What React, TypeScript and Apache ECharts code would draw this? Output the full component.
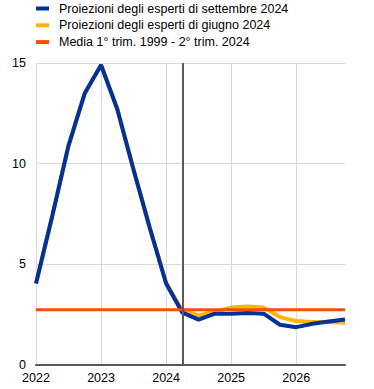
import React, { useEffect, useRef } from "react";
import * as echarts from "echarts";

const quarters = [
  "2022Q1", "2022Q2", "2022Q3", "2022Q4",
  "2023Q1", "2023Q2", "2023Q3", "2023Q4",
  "2024Q1", "2024Q2", "2024Q3", "2024Q4",
  "2025Q1", "2025Q2", "2025Q3", "2025Q4",
  "2026Q1", "2026Q2", "2026Q3", "2026Q4",
];

const septemberProjections = [
  4.05, 7.4, 10.9, 13.5,
  14.9, 12.7, 9.7, 6.8,
  4.05, 2.6, 2.25, 2.55,
  2.55, 2.58, 2.55, 2.0,
  1.88, 2.05, 2.16, 2.26,
];

const juneProjections = [
  4.05, 7.4, 10.9, 13.5,
  14.9, 12.7, 9.7, 6.8,
  4.1, 2.7, 2.46, 2.66,
  2.85, 2.9, 2.85, 2.38,
  2.18, 2.13, 2.13, 2.1,
];

const longTermAverage = [
  2.75, 2.75, 2.75, 2.75,
  2.75, 2.75, 2.75, 2.75,
  2.75, 2.75, 2.75, 2.75,
  2.75, 2.75, 2.75, 2.75,
  2.75, 2.75, 2.75, 2.75,
];

const cutoffQuarter = "2024Q2";

const seriesNames = [
  "Proiezioni degli esperti di settembre 2024",
  "Proiezioni degli esperti di giugno 2024",
  "Media 1° trim. 1999 - 2° trim. 2024",
];

const yTicks = { min: 0, max: 15, interval: 5 };

export default function App() {
  const ref = useRef<HTMLDivElement>(null);

  useEffect(() => {
    if (!ref.current) return;
    const chart = echarts.init(ref.current, null, { renderer: "svg" });
    const font = "Arial, 'Liberation Sans', sans-serif";
    chart.setOption({
      animation: false,
      textStyle: { fontFamily: font },
      legend: {
        orient: "vertical",
        left: 36,
        top: 2,
        padding: 0,
        itemWidth: 13,
        itemHeight: 4,
        itemGap: 3.8,
        icon: "rect",
        data: seriesNames,
        textStyle: { fontSize: 12.5, color: "#000", fontFamily: font, padding: [0, 0, 0, 5] },
      },
      grid: { left: 36, right: 29, top: 63, bottom: 24, containLabel: false },
      xAxis: {
        type: "category",
        data: quarters,
        boundaryGap: false,
        axisLine: { show: true, lineStyle: { color: "#595959", width: 2 } },
        axisTick: { show: false },
        axisLabel: {
          interval: 3,
          formatter: (v: string) => v.slice(0, 4),
          fontSize: 12.5,
          color: "#000",
          margin: 6,
          fontFamily: font,
        },
        splitLine: { show: true, interval: 3, lineStyle: { color: "#d9d9d9", width: 1 } },
      },
      yAxis: {
        type: "value",
        min: yTicks.min,
        max: yTicks.max,
        interval: yTicks.interval,
        axisLine: { show: false },
        axisTick: { show: false },
        axisLabel: { fontSize: 12.5, color: "#000", margin: 10, fontFamily: font },
        splitLine: { show: true, lineStyle: { color: "#d9d9d9", width: 1 } },
      },
      series: [
        {
          name: seriesNames[1],
          type: "line",
          data: juneProjections,
          symbol: "none",
          z: 2,
          itemStyle: { color: "#ffb400" },
          lineStyle: { color: "#ffb400", width: 4 },
        },
        {
          name: seriesNames[0],
          type: "line",
          data: septemberProjections,
          symbol: "none",
          z: 3,
          itemStyle: { color: "#003299" },
          lineStyle: { color: "#003299", width: 4 },
          markLine: {
            silent: true,
            symbol: "none",
            label: { show: false },
            lineStyle: { color: "#595959", width: 2, type: "solid" },
            data: [{ xAxis: cutoffQuarter }],
          },
        },
        {
          name: seriesNames[2],
          type: "line",
          data: longTermAverage,
          symbol: "none",
          z: 4,
          itemStyle: { color: "#ff4b00" },
          lineStyle: { color: "#ff4b00", width: 3 },
        },
      ],
    });
    return () => chart.dispose();
  }, []);

  return (
    <div style={{ position: "absolute", left: 0, top: 0 }}>
      <div ref={ref} style={{ width: 374, height: 389 }} />
    </div>
  );
}
